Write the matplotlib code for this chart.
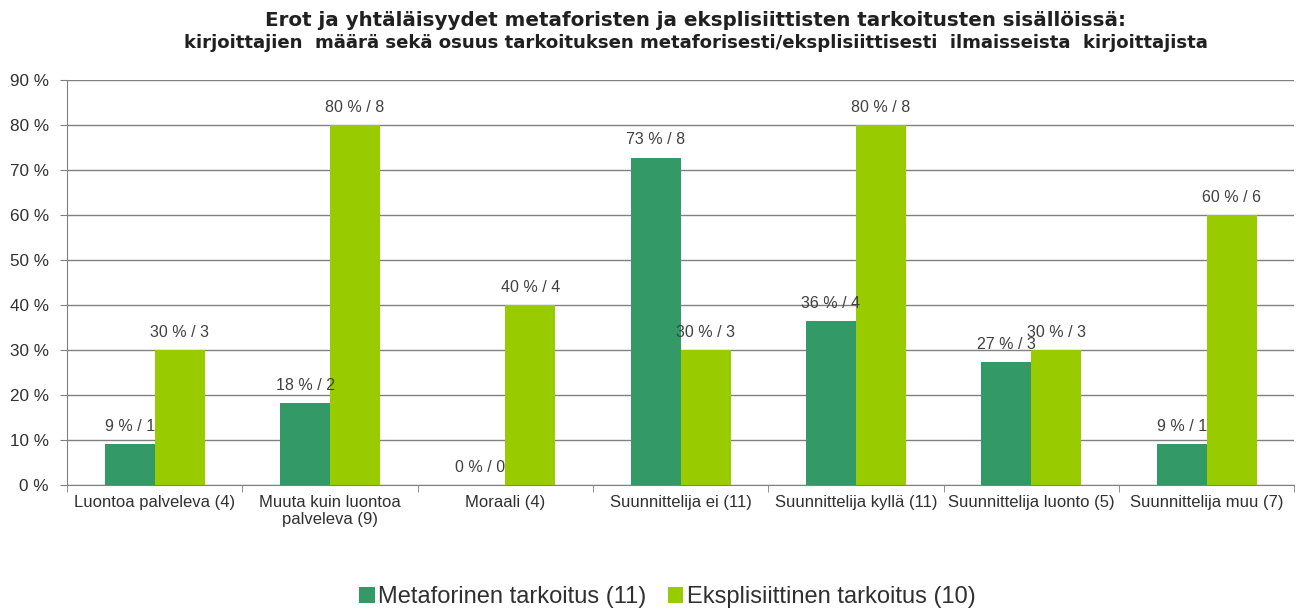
import matplotlib
matplotlib.use("Agg")
import matplotlib.pyplot as plt
import numpy as np

plt.rcParams['font.family'] = ['Liberation Sans', 'DejaVu Sans']

categories = ["Luontoa palveleva (4)", "Muuta kuin luontoa\npalveleva (9)", "Moraali (4)",
              "Suunnittelija ei (11)", "Suunnittelija kyllä (11)", "Suunnittelija luonto (5)",
              "Suunnittelija muu (7)"]
meta_pct = [9.09, 18.18, 0, 72.73, 36.36, 27.27, 9.09]
meta_n = [1, 2, 0, 8, 4, 3, 1]
expl_pct = [30, 80, 40, 30, 80, 30, 60]
expl_n = [3, 8, 4, 3, 8, 3, 6]
series_names = ["Metaforinen tarkoitus (11)", "Eksplisiittinen tarkoitus (10)"]
title_lines = ["Erot ja yhtäläisyydet metaforisten ja eksplisiittisten tarkoitusten sisällöissä:",
               "kirjoittajien  määrä sekä osuus tarkoituksen metaforisesti/eksplisiittisesti  ilmaisseista  kirjoittajista"]

c_dark = "#339966"
c_light = "#99cc00"
txt = "#303030"

fig = plt.figure(figsize=(12.96, 6.10), dpi=100)
ax = fig.add_axes([0.0517, 0.2049, 0.947, 0.664])

x = np.arange(len(categories))
w = 0.285
b1 = ax.bar(x - w/2, meta_pct, w, color=c_dark, label=series_names[0], zorder=3)
b2 = ax.bar(x + w/2, expl_pct, w, color=c_light, label=series_names[1], zorder=3)

for xi, p, n in zip(x - w/2, meta_pct, meta_n):
    ax.text(xi, p + 2.3, f"{round(p)} % / {n}", ha="center", va="bottom", fontsize=11.5, color="#404040")
for xi, p, n in zip(x + w/2, expl_pct, expl_n):
    ax.text(xi, p + 2.3, f"{round(p)} % / {n}", ha="center", va="bottom", fontsize=11.5, color="#404040")

ax.set_xlim(-0.5, len(categories) - 0.5)
ax.set_ylim(0, 90)
ax.set_yticks(np.arange(0, 91, 10))
ax.set_yticklabels([f"{v} %" for v in range(0, 91, 10)], fontsize=12.3, color=txt)
ax.yaxis.grid(True, color="#808080", linewidth=1, zorder=0)
ax.set_axisbelow(True)

ax.set_xticks(x)
ax.set_xticklabels(categories, fontsize=12, color=txt, linespacing=1.15)
ax.tick_params(axis="x", length=0, pad=7)
ax.set_xticks(np.arange(-0.5, len(categories), 1), minor=True)
ax.tick_params(axis="x", which="minor", length=5, color="#808080")
ax.tick_params(axis="y", length=5, color="#808080", pad=8)

for s in ["top", "right"]:
    ax.spines[s].set_visible(False)
ax.spines["left"].set_color("#808080")
ax.spines["bottom"].set_color("#808080")

fig.text(0.537, 0.967, title_lines[0], ha="center", va="center", fontsize=14.35, fontweight="bold",
         color="#202020", family="DejaVu Sans")
fig.text(0.537, 0.930, title_lines[1], ha="center", va="center", fontsize=13.1, fontweight="bold",
         color="#202020", family="DejaVu Sans")

fig.legend(handles=[b1, b2], loc="center", bbox_to_anchor=(0.515, 0.021), ncol=2, frameon=False,
           fontsize=17, handlelength=0.65, handleheight=0.65, handletextpad=0.15, columnspacing=0.9,
           labelcolor=txt, borderpad=0)

fig.savefig("out.png", dpi=100, facecolor="white")
